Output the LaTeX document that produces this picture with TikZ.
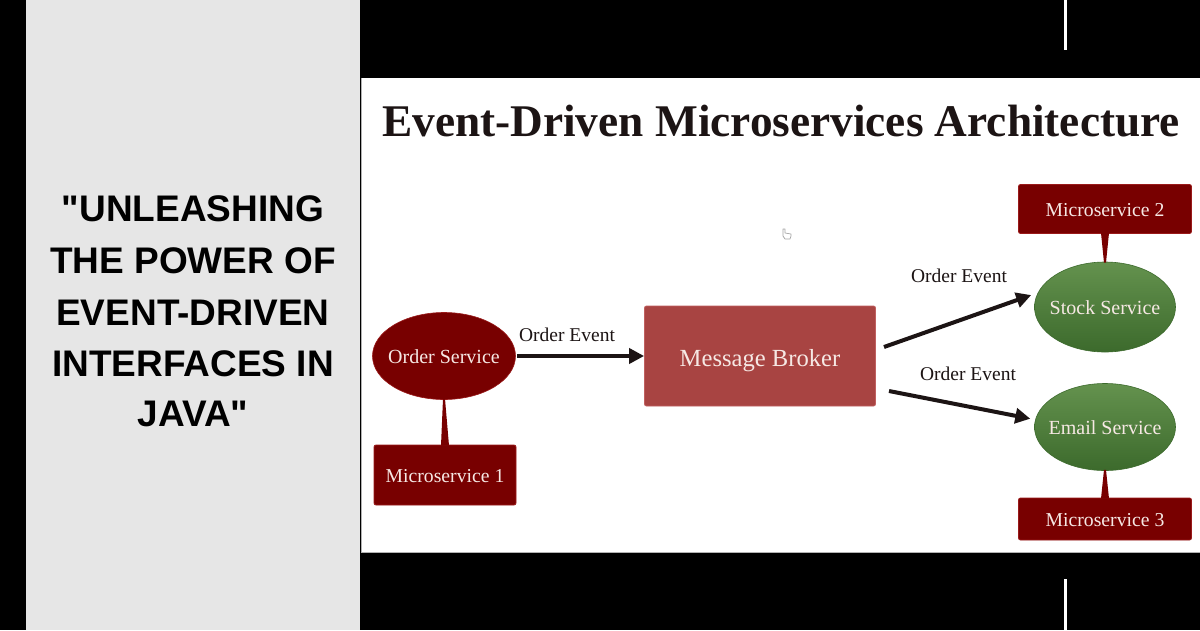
\documentclass[tikz,border=0pt]{standalone}
\usepackage{fontspec}
\setmainfont{Liberation Serif}
\newfontfamily\headfont{Liberation Sans}
\usetikzlibrary{shapes.geometric,arrows.meta,calc}
\definecolor{panelgray}{HTML}{E6E6E6}
\definecolor{dred}{HTML}{780000}
\definecolor{dredline}{HTML}{9A1A1A}
\definecolor{broker}{HTML}{A84442}
\definecolor{brokerline}{HTML}{C06060}
\definecolor{gtop}{HTML}{64924E}
\definecolor{gbot}{HTML}{3C6A2C}
\definecolor{ink}{HTML}{1C1414}
\definecolor{lighttext}{HTML}{F6E8E4}
\tikzset{
  msbox/.style={rectangle, fill=dred, draw=dredline, line width=0.8pt, rounded corners=2pt,
    text=lighttext, font=\fontsize{19.7}{22}\selectfont, inner sep=0pt, text height=14pt, text depth=0pt},
  ellbase/.style={ellipse, line width=0.6pt, inner xsep=-30pt, inner ysep=-10pt,
    text=lighttext, font=\fontsize{20}{22}\selectfont, text height=14pt, text depth=0pt},
  redell/.style={ellbase, fill=dred, draw=dredline},
  greenell/.style={ellbase, top color=gtop, bottom color=gbot, draw=gbot},
  evarrow/.style={draw=ink, line width=4pt, -{Triangle[length=15pt,width=15pt]}},
  evlabel/.style={text=ink, font=\fontsize{19.5}{22}\selectfont, inner sep=0pt},
  headline/.style={font=\headfont\bfseries\fontsize{37}{44}\selectfont, text=black, inner sep=0pt}
}
\begin{document}
\begin{tikzpicture}[x=1pt,y=-1pt]
\useasboundingbox (0,0) rectangle (1200,630);
% backgrounds
\fill[black] (0,0) rectangle (1200,630);
\fill[panelgray] (26,0) rectangle (360,630);
\fill[white] (361,78) rectangle (1200,552);
\draw[gray!60, line width=0.8pt] (361,78) -- (361,552);
\draw[gray!60, line width=0.8pt] (361,552) -- (1200,552);
\fill[white] (1064,0) rectangle (1066.5,50);
\fill[white] (1064,579) rectangle (1066.5,630);
% left headline
\node[headline] (h1) at (193,209) {"UNLEASHING};
\node[headline] (h2) at (193,261) {THE POWER OF};
\node[headline] (h3) at (193,313) {EVENT-DRIVEN};
\node[headline] (h4) at (193,364) {INTERFACES IN};
\node[headline] (h5) at (193,414) {JAVA"};
% title
\node[text=ink, font=\bfseries\fontsize{45.3}{50}\selectfont, inner sep=0pt, anchor=base] (title) at (781,136) {Event-Driven Microservices Architecture};
% nodes
\node[redell, minimum width=143pt, minimum height=87pt] (os) at (444,356) {Order Service};
\node[msbox, minimum width=142pt, minimum height=60pt] (ms1) at (445,475) {Microservice 1};
\node[rectangle, fill=broker, draw=brokerline, line width=0.8pt, rounded corners=2pt,
  minimum width=231pt, minimum height=100pt, inner sep=0pt, text=lighttext,
  text height=20pt, text depth=0pt,
  font=\fontsize{24.6}{28}\selectfont] (mb) at (760,356) {Message Broker};
\node[greenell, minimum width=141pt, minimum height=90pt] (ss) at (1105,307) {Stock Service};
\node[msbox, minimum width=173pt, minimum height=49pt] (ms2) at (1105,209) {Microservice 2};
\node[greenell, minimum width=141pt, minimum height=87pt] (es) at (1105,427) {Email Service};
\node[msbox, minimum width=173pt, minimum height=42pt] (ms3) at (1105,519) {Microservice 3};
% callout pointers
\fill[dred] ($(os.south)+(-1,-1)$) -- ($(os.south)+(1,-1)$) -- ($(ms1.north)+(4,1)$) -- ($(ms1.north)+(-4,1)$) -- cycle;
\fill[dred] ($(ss.north)+(-1,1)$) -- ($(ss.north)+(1,1)$) -- ($(ms2.south)+(4,-1)$) -- ($(ms2.south)+(-4,-1)$) -- cycle;
\fill[dred] ($(es.south)+(-1,-1)$) -- ($(es.south)+(1,-1)$) -- ($(ms3.north)+(4,1)$) -- ($(ms3.north)+(-4,1)$) -- cycle;
% arrows
\coordinate (s1) at (884,347);
\coordinate (s2) at (889,391);
\draw[evarrow, shorten <=1pt] (os.east) -- (mb.west);
\draw[evarrow, shorten >=7pt] (s1) -- (ss.168);
\draw[evarrow, shorten >=5pt] (s2) -- (es.174);
% labels
\node[evlabel] (l1) at (567,335) {Order Event};
\node[evlabel] (l2) at (959,276) {Order Event};
\node[evlabel] (l3) at (968,374) {Order Event};
% cursor
\draw[gray!70, line width=0.7pt, line join=round, fill=white] (783,229) -- (783,236) -- (785,239) -- (790,239) -- (791,236) -- (791,234) -- (785,233) -- (785,229) -- cycle;
\end{tikzpicture}
\end{document}
